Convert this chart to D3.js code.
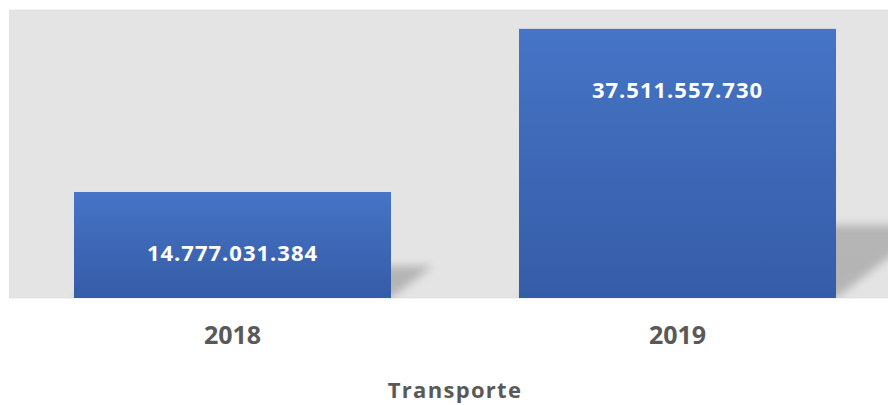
<!DOCTYPE html>
<html>
<head>
<meta charset="utf-8">
<script src="https://cdn.jsdelivr.net/npm/d3@7"></script>
<style>
  html, body { margin: 0; padding: 0; background: #ffffff; }
  svg { display: block; }
</style>
</head>
<body>
<svg id="chart" width="888" height="405"></svg>
<script>
// ---- data ----
const categories = ["2018", "2019"];
const values = [14777031384, 37511557730];
const valueLabels = ["14.777.031.384", "37.511.557.730"];
const axisTitle = "Transporte";

// ---- layout ----
const W = 888, H = 405;
const plot = { left: 9.5, right: 900, top: 10, bottom: 298 };

const svg = d3.select("#chart");
const defs = svg.append("defs");

const grad = defs.append("linearGradient")
  .attr("id", "barGrad").attr("x1", 0).attr("y1", 0).attr("x2", 0).attr("y2", 1);
grad.append("stop").attr("offset", "0%").attr("stop-color", "#4674C6");
grad.append("stop").attr("offset", "100%").attr("stop-color", "#355CA7");

defs.append("filter").attr("id", "blur")
  .attr("x", "-20%").attr("y", "-30%").attr("width", "140%").attr("height", "160%")
  .append("feGaussianBlur").attr("stdDeviation", 4);

defs.append("clipPath").attr("id", "plotClip")
  .append("rect").attr("x", plot.left).attr("y", plot.top)
  .attr("width", plot.right - plot.left).attr("height", plot.bottom - plot.top);

const x = d3.scaleBand()
  .domain(categories)
  .range([plot.left + 0.5, plot.right])
  .paddingInner(0.2876)
  .paddingOuter(0.1438);

const y = d3.scaleLinear()
  .domain([0, 40e9])
  .range([plot.bottom, plot.top + 1]);

// plot area background
svg.append("rect")
  .attr("x", plot.left).attr("y", plot.top)
  .attr("width", plot.right - plot.left).attr("height", plot.bottom - plot.top)
  .attr("fill", "#E4E4E4")
  .attr("stroke", "#DADADA").attr("stroke-width", 0.6);

const data = categories.map((c, i) => ({ c, v: values[i], label: valueLabels[i] }));

// shadows
const shadowG = svg.append("g").attr("clip-path", "url(#plotClip)");
shadowG.selectAll("path.shadow")
  .data(data).join("path")
  .attr("class", "shadow")
  .attr("d", d => {
    const x0 = x(d.c), x1 = x(d.c) + x.bandwidth();
    const yb = y(0);
    const h = y(0) - y(d.v);
    const sh = Math.max(0.27 * h, 32);
    const sk = 1.3 * sh;
    return `M${x0},${yb} L${x1},${yb} L${x1 + sk},${yb - sh} L${x0 + sk},${yb - sh} Z`;
  })
  .attr("fill", "#8E8E8E")
  .attr("opacity", 0.55)
  .attr("filter", "url(#blur)");

// bars
svg.selectAll("rect.bar")
  .data(data).join("rect")
  .attr("class", "bar")
  .attr("x", d => x(d.c))
  .attr("y", d => y(d.v))
  .attr("width", x.bandwidth())
  .attr("height", d => y(0) - y(d.v))
  .attr("fill", "url(#barGrad)");

// value labels
svg.selectAll("text.val")
  .data(data).join("text")
  .attr("class", "val")
  .attr("x", d => x(d.c) + x.bandwidth() / 2)
  .attr("y", d => y(d.v) + 69)
  .attr("text-anchor", "middle")
  .attr("font-family", "'Open Sans', sans-serif")
  .attr("font-weight", 700)
  .attr("font-size", 22)
  .attr("letter-spacing", 1)
  .attr("fill", "#FFFFFF")
  .text(d => d.label);

// category axis labels
const xAxis = d3.axisBottom(x).tickSize(0).tickPadding(0);
const axG = svg.append("g")
  .attr("transform", `translate(0, ${plot.bottom})`)
  .call(xAxis);
axG.select(".domain").remove();
axG.selectAll("text")
  .attr("dy", 0)
  .attr("y", 46)
  .attr("font-family", "'Open Sans', sans-serif")
  .attr("font-weight", 700)
  .attr("font-size", 25)
  .attr("fill", "#595959");

// axis title
svg.append("text")
  .attr("x", (x(categories[0]) + x(categories[1]) + x.bandwidth()) / 2)
  .attr("y", 398)
  .attr("text-anchor", "middle")
  .attr("font-family", "'Open Sans', sans-serif")
  .attr("font-weight", 700)
  .attr("font-size", 22)
  .attr("letter-spacing", 1.3)
  .attr("fill", "#595959")
  .text(axisTitle);
</script>
</body>
</html>
